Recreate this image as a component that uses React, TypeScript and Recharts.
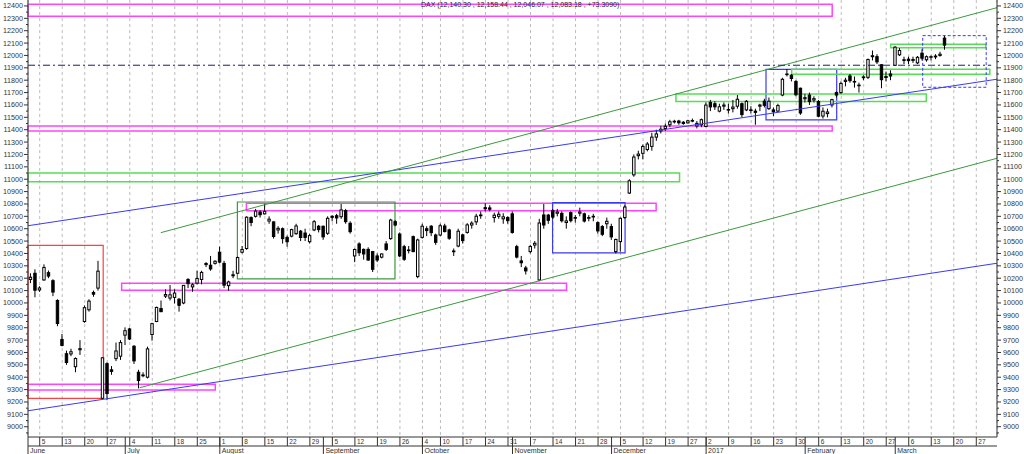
import React from 'react';
import { ComposedChart, Bar, XAxis, YAxis, CartesianGrid, ReferenceArea, ReferenceLine } from 'recharts';

// trading-day index of the first candle (Jun 6 2016 = 0), holidays skipped
const FIRST = -2;
const X_MIN = -2.6;
const X_MAX = 212.6;
const Y_MIN = 8917;
const Y_MAX = 12448;

const opens = [
  10190, 10240, 10105, 10186, 10245, 10180, 10020, 9705, 9590, 9588,
  9485, 9622, 9850, 9945, 10085, 10120, 9230, 9510, 9460, 9550,
  9570, 9740, 9790, 9650, 9440, 9412, 9400, 9745, 9850, 9955,
  10055, 10040, 10045, 10030, 10000, 10190, 10130, 10160, 10190, 10310,
  10305, 10320, 10410, 10320, 10140, 10220, 10240, 10410, 10440, 10690,
  10700, 10735, 10720, 10662, 10655, 10590, 10600, 10530, 10540, 10560,
  10580, 10565, 10495, 10590, 10620, 10620, 10563, 10700, 10705, 10697,
  10746, 10644, 10380, 10477, 10433, 10433, 10415, 10380, 10370, 10477,
  10520, 10657, 10557, 10455, 10425, 10536, 10213, 10530, 10600, 10620,
  10549, 10549, 10622, 10590, 10420, 10460, 10550, 10570, 10630, 10655,
  10705, 10770, 10768, 10690, 10700, 10680, 10690, 10720, 10455, 10340,
  10283, 10415, 10468, 10186, 10711, 10710, 10746, 10725, 10724, 10650,
  10730, 10690, 10725, 10720, 10690, 10700, 10649, 10617, 10640, 10617,
  10415, 10496, 10690, 10888, 11035, 11190, 11209, 11240, 11265, 11340,
  11390, 11410, 11440, 11465, 11470, 11460, 11455, 11470, 11430, 11440,
  11426, 11620, 11610, 11550, 11590, 11560, 11570, 11590, 11610, 11560,
  11560, 11550, 11590, 11630, 11570, 11560, 11550, 11680, 11850, 11840,
  11790, 11735, 11650, 11680, 11640, 11627, 11510, 11530, 11600, 11700,
  11700, 11790, 11835, 11790, 11760, 11820, 11823, 11990, 11990, 11925,
  11830, 11850, 11920, 12005, 11965, 11970, 11960, 11940, 12018, 11965,
  11985, 11995, 12000, 12140.3,
];

const highs = [
  10240, 10272, 10135, 10312, 10262, 10192, 10030, 9750, 9615, 9630,
  9560, 9700, 9980, 10030, 10100, 10340, 9560, 9520, 9490, 9680,
  9700, 9803, 9800, 9660, 9460, 9440, 9647, 9840, 9970, 10020,
  10110, 10145, 10110, 10040, 10145, 10200, 10160, 10260, 10260, 10330,
  10380, 10345, 10455, 10340, 10180, 10260, 10375, 10460, 10700, 10700,
  10760, 10750, 10802, 10700, 10660, 10620, 10610, 10545, 10600, 10640,
  10590, 10600, 10560, 10670, 10630, 10625, 10700, 10710, 10720, 10800,
  10760, 10660, 10440, 10490, 10440, 10450, 10420, 10400, 10400, 10500,
  10680, 10670, 10570, 10470, 10460, 10545, 10520, 10640, 10620, 10630,
  10560, 10640, 10640, 10600, 10440, 10600, 10560, 10645, 10660, 10720,
  10740, 10805, 10790, 10730, 10740, 10725, 10700, 10740, 10470, 10380,
  10300, 10470, 10500, 10680, 10800, 10720, 10760, 10760, 10740, 10700,
  10740, 10710, 10770, 10730, 10710, 10720, 10660, 10630, 10690, 10640,
  10520, 10690, 10790, 11000, 11200, 11230, 11280, 11300, 11375, 11400,
  11430, 11450, 11480, 11480, 11480, 11470, 11480, 11490, 11470, 11490,
  11620, 11640, 11630, 11610, 11620, 11610, 11640, 11680, 11620, 11640,
  11590, 11570, 11610, 11650, 11660, 11580, 11610, 11820, 11890, 11850,
  11800, 11740, 11690, 11700, 11670, 11640, 11580, 11570, 11650, 11710,
  11790, 11820, 11850, 11830, 11780, 11840, 11975, 12040, 12010, 11930,
  11870, 11880, 12075, 12060, 11990, 11990, 11990, 11995, 12050, 12000,
  12000, 12010, 12030, 12158.44,
];

const lows = [
  10160, 10046, 10090, 10180, 10200, 10055, 9812, 9650, 9500, 9570,
  9440, 9580, 9840, 9930, 10050, 10100, 9224, 9214, 9420, 9530,
  9540, 9660, 9700, 9507, 9310, 9400, 9390, 9695, 9845, 9925,
  10040, 10020, 9995, 9930, 9990, 10120, 10090, 10150, 10150, 10290,
  10260, 10310, 10320, 10120, 10099, 10200, 10235, 10400, 10430, 10620,
  10690, 10690, 10715, 10640, 10520, 10560, 10480, 10455, 10530, 10550,
  10500, 10500, 10480, 10580, 10570, 10510, 10550, 10660, 10640, 10680,
  10640, 10560, 10330, 10380, 10350, 10340, 10250, 10330, 10360, 10420,
  10510, 10620, 10370, 10340, 10400, 10410, 10200, 10520, 10540, 10540,
  10470, 10540, 10570, 10510, 10380, 10450, 10480, 10560, 10600, 10630,
  10680, 10740, 10740, 10650, 10680, 10640, 10640, 10560, 10360, 10290,
  10230, 10400, 10440, 10175, 10600, 10640, 10680, 10700, 10650, 10600,
  10650, 10650, 10700, 10650, 10660, 10660, 10560, 10540, 10600, 10510,
  10400, 10414, 10680, 10880, 11020, 11160, 11160, 11225, 11230, 11310,
  11370, 11390, 11420, 11450, 11440, 11440, 11450, 11460, 11410, 11420,
  11420, 11550, 11560, 11540, 11560, 11530, 11540, 11570, 11500, 11550,
  11530, 11440, 11550, 11580, 11560, 11510, 11540, 11670, 11830, 11790,
  11670, 11520, 11620, 11600, 11620, 11500, 11490, 11500, 11580, 11660,
  11690, 11750, 11780, 11740, 11700, 11800, 11810, 11960, 11930, 11735,
  11790, 11800, 11915, 11995, 11930, 11930, 11940, 11930, 11960, 11950,
  11960, 11970, 11990, 12046.07,
];

const closes = [
  10208, 10103, 10121, 10287, 10217, 10088, 9834, 9657, 9519, 9606,
  9551, 9631, 9962, 10015, 10071, 10257, 9557, 9268, 9447, 9612,
  9680, 9776, 9709, 9532, 9373, 9418, 9629, 9833, 9964, 9930,
  10068, 10066, 10080, 9981, 10142, 10156, 10147, 10198, 10247, 10319,
  10275, 10337, 10330, 10144, 10170, 10228, 10367, 10432, 10693, 10650,
  10742, 10713, 10740, 10677, 10537, 10603, 10520, 10495, 10593, 10622,
  10529, 10530, 10544, 10657, 10593, 10534, 10684, 10692, 10687, 10752,
  10657, 10576, 10432, 10406, 10396, 10347, 10272, 10347, 10396, 10433,
  10670, 10630, 10380, 10353, 10428, 10415, 10509, 10620, 10585, 10568,
  10490, 10624, 10577, 10523, 10414, 10580, 10504, 10631, 10645, 10701,
  10711, 10761, 10757, 10709, 10717, 10696, 10665, 10570, 10371, 10325,
  10259, 10456, 10482, 10646, 10630, 10668, 10694, 10735, 10664, 10663,
  10665, 10685, 10735, 10662, 10689, 10700, 10582, 10555, 10660, 10534,
  10513, 10684, 10775, 10987, 11179, 11203, 11265, 11284, 11340, 11366,
  11404, 11427, 11464, 11468, 11456, 11450, 11472, 11474, 11451, 11481,
  11599, 11584, 11585, 11585, 11599, 11563, 11583, 11646, 11522, 11629,
  11555, 11540, 11599, 11597, 11630, 11545, 11595, 11807, 11849, 11814,
  11682, 11535, 11659, 11627, 11651, 11509, 11549, 11543, 11643, 11680,
  11774, 11800, 11796, 11785, 11757, 11827, 11967, 11998, 11948, 11804,
  11822, 11834, 12067, 12040, 11960, 11958, 11967, 11985, 11978, 11990,
  11990, 11988, 12009.87, 12083.18,
];

// first trading day of each week
const weekTicks = [0, 5, 10, 15, 20, 25, 30, 35, 40, 45, 50, 55, 60, 65, 70, 75, 80, 85, 89, 94, 99, 104,
  109, 114, 119, 124, 129, 134, 139, 144, 148, 153, 158, 163, 168, 173, 178, 183, 188, 193, 198, 203, 208];
const weekLabels = ['5', '13', '20', '27', '4', '11', '18', '25', '1', '8', '15', '22', '29', '5', '12', '19', '26',
  '4', '10', '17', '24', '31', '7', '14', '21', '28', '5', '12', '19', '27', '2', '9', '16', '23', '30',
  '6', '13', '20', '27', '6', '13', '20', '27'];

const monthTicks = [X_MIN, 19, 40, 63, 85, 105, 127, 148, 170, 190];
const monthLabels = ['June', 'July', 'August', 'September', 'October', 'November', 'December', '2017', 'February', 'March'];

const yTicks: number[] = [];
for (let v = 8950; v <= 12400; v += 50) yTicks.push(v);

const PINK = '#ff44ff';
const LGREEN = '#55dd55';
const DGREEN = '#3c9a3c';
const BLUE = '#3a3af0';
const RED = '#ff4040';

const boxes = [
  { x1: X_MIN, x2: 176, y1: 12317, y2: 12414, c: PINK, w: 1.5 },
  { x1: X_MIN, x2: 176, y1: 11390, y2: 11430, c: PINK, w: 1.5 },
  { x1: X_MIN, x2: 142.1, y1: 10980, y2: 11050, c: LGREEN, w: 1.5 },
  { x1: 45.9, x2: 136.9, y1: 10746, y2: 10805, c: PINK, w: 1.5 },
  { x1: 18.2, x2: 117, y1: 10102, y2: 10159, c: PINK, w: 1.5 },
  { x1: X_MIN, x2: 39, y1: 9297, y2: 9343, c: PINK, w: 1.5 },
  { x1: X_MIN, x2: 14.1, y1: 9229, y2: 10466, c: RED, w: 1.2 },
  { x1: 43.9, x2: 78.9, y1: 10194, y2: 10816, c: DGREEN, w: 1.2 },
  { x1: 113.9, x2: 130, y1: 10404, y2: 10810, c: BLUE, w: 1.2 },
  { x1: 161.3, x2: 177, y1: 11479, y2: 11888, c: BLUE, w: 1.2 },
  { x1: 141.3, x2: 196.9, y1: 11627, y2: 11689, c: LGREEN, w: 1.5 },
  { x1: 167, x2: 211, y1: 11848, y2: 11888, c: LGREEN, w: 1.5 },
  { x1: 189, x2: 210.1, y1: 12063, y2: 12090, c: LGREEN, w: 1.5 },
  { x1: 196.1, x2: 210.2, y1: 11743, y2: 12160, c: BLUE, w: 1, dash: '3 2' },
];

const trendLines = [
  { x1: X_MIN, y1: 9129, x2: X_MAX, y2: 10321, c: BLUE },
  { x1: X_MIN, y1: 10624, x2: X_MAX, y2: 11808, c: BLUE },
  { x1: 26.9, y1: 10568, x2: X_MAX, y2: 12386, c: DGREEN },
  { x1: 22.2, y1: 9315, x2: X_MAX, y2: 11169, c: DGREEN },
  { x1: X_MIN, y1: 11921, x2: 211.3, y2: 11921, c: '#1c1c6a', dash: '7 3 2 3' },
];

const candles = opens.map((o, i) => ({
  x: FIRST + i,
  open: o,
  high: highs[i],
  low: lows[i],
  close: closes[i],
  range: [lows[i], highs[i]],
}));

const FONT = 'Liberation Sans, Arial, sans-serif';
const PLOT_LEFT = 28;
const PLOT_RIGHT = 997;

const Candle = (props: any) => {
  const { x, y, width, height, payload } = props;
  if (x == null || y == null || !payload) return null;
  const { open, close, high, low } = payload;
  const top = Math.min(y, y + height);
  const h = Math.abs(height);
  const k = high > low ? h / (high - low) : 0;
  const py = (v: number) => top + (high - v) * k;
  const cx = x + width / 2;
  const bTop = py(Math.max(open, close));
  const bBot = py(Math.min(open, close));
  const up = close >= open;
  return (
    <g>
      <line x1={cx} x2={cx} y1={top} y2={top + h} stroke="#000" strokeWidth={1} />
      <rect x={cx - 1.2} y={bTop} width={2.4} height={Math.max(bBot - bTop, 0.6)}
        fill={up ? '#fff' : '#000'} stroke="#000" strokeWidth={1} />
    </g>
  );
};

const WeekTick = (props: any) => {
  const { x, y, payload } = props;
  const i = weekTicks.indexOf(payload.value);
  return (
    <g>
      <line x1={x} x2={x} y1={y} y2={y + 9} stroke="#333" />
      <text x={x + 2} y={y + 7} fontSize={6.5} fontFamily={FONT} fill="#333">{weekLabels[i]}</text>
    </g>
  );
};

const MonthTick = (props: any) => {
  const { x, y, payload } = props;
  const i = monthTicks.indexOf(payload.value);
  return (
    <g>
      <line x1={x} x2={x} y1={y - 9} y2={y + 8} stroke="#333" />
      <text x={x + 2} y={y + 7} fontSize={7} fontFamily={FONT} fill="#333">{monthLabels[i]}</text>
    </g>
  );
};

const LeftTick = (props: any) => {
  const { y, payload } = props;
  const major = payload.value % 100 === 0;
  return (
    <g>
      <line x1={PLOT_LEFT - (major ? 4 : 2)} x2={PLOT_LEFT} y1={y} y2={y} stroke="#333" />
      {major && (
        <text x={PLOT_LEFT - 5} y={y} dy="0.35em" textAnchor="end" fontSize={7.2} fontFamily={FONT} fill="#333">
          {payload.value}
        </text>
      )}
    </g>
  );
};

const RightTick = (props: any) => {
  const { y, payload } = props;
  const major = payload.value % 100 === 0;
  return (
    <g>
      <line x1={PLOT_RIGHT} x2={PLOT_RIGHT + (major ? 4 : 2)} y1={y} y2={y} stroke="#333" />
      {major && (
        <text x={PLOT_RIGHT + 6} y={y} dy="0.35em" textAnchor="start" fontSize={7.2} fontFamily={FONT} fill="#333">
          {payload.value}
        </text>
      )}
    </g>
  );
};

export default function App() {
  return (
    <div style={{ position: 'absolute', left: 0, top: 0, width: 1024, height: 454, background: '#fff' }}>
      <ComposedChart width={1024} height={454} data={candles} margin={{ top: 0, right: 0, bottom: 0, left: 0 }}>
        <CartesianGrid xAxisId="a" yAxisId="left" horizontal={false} stroke="#bdbdbd" strokeDasharray="3 3" />
        <XAxis xAxisId="a" dataKey="x" type="number" domain={[X_MIN, X_MAX]} allowDataOverflow
          ticks={weekTicks} interval={0} height={9} tickSize={0} tickMargin={0} tickLine={false}
          axisLine={{ stroke: '#333' }} tick={<WeekTick />} />
        <XAxis xAxisId="b" dataKey="x" type="number" domain={[X_MIN, X_MAX]} allowDataOverflow
          ticks={monthTicks} interval={0} height={8} tickSize={0} tickMargin={0} tickLine={false}
          axisLine={{ stroke: '#333' }} tick={<MonthTick />} />
        <YAxis yAxisId="left" orientation="left" width={28} type="number" domain={[Y_MIN, Y_MAX]} allowDataOverflow
          ticks={yTicks} interval={0} tickLine={false} axisLine={{ stroke: '#333' }} tick={<LeftTick />} />
        <YAxis yAxisId="right" orientation="right" width={27} type="number" domain={[Y_MIN, Y_MAX]} allowDataOverflow
          ticks={yTicks} interval={0} tickLine={false} axisLine={{ stroke: '#333' }} tick={<RightTick />} />
        {boxes.map((b, i) => (
          <ReferenceArea key={'b' + i} xAxisId="a" yAxisId="left" x1={b.x1} x2={b.x2} y1={b.y1} y2={b.y2}
            fill="none" fillOpacity={0} stroke={b.c} strokeWidth={b.w} strokeDasharray={b.dash} ifOverflow="visible" />
        ))}
        {trendLines.map((l, i) => (
          <ReferenceLine key={'l' + i} xAxisId="a" yAxisId="left"
            segment={[{ x: l.x1, y: l.y1 }, { x: l.x2, y: l.y2 }]}
            stroke={l.c} strokeWidth={1} strokeDasharray={l.dash} ifOverflow="visible" />
        ))}
        <Bar xAxisId="a" yAxisId="left" dataKey="range" barSize={4} isAnimationActive={false} shape={<Candle />} />
      </ComposedChart>
      <div style={{ position: 'absolute', left: 421, top: 1, fontSize: 7, fontFamily: FONT, color: '#222', whiteSpace: 'nowrap' }}>
        DAX (12,140.30 , 12,158.44 , 12,046.07 , 12,083.18 , +73.3090)
      </div>
    </div>
  );
}
